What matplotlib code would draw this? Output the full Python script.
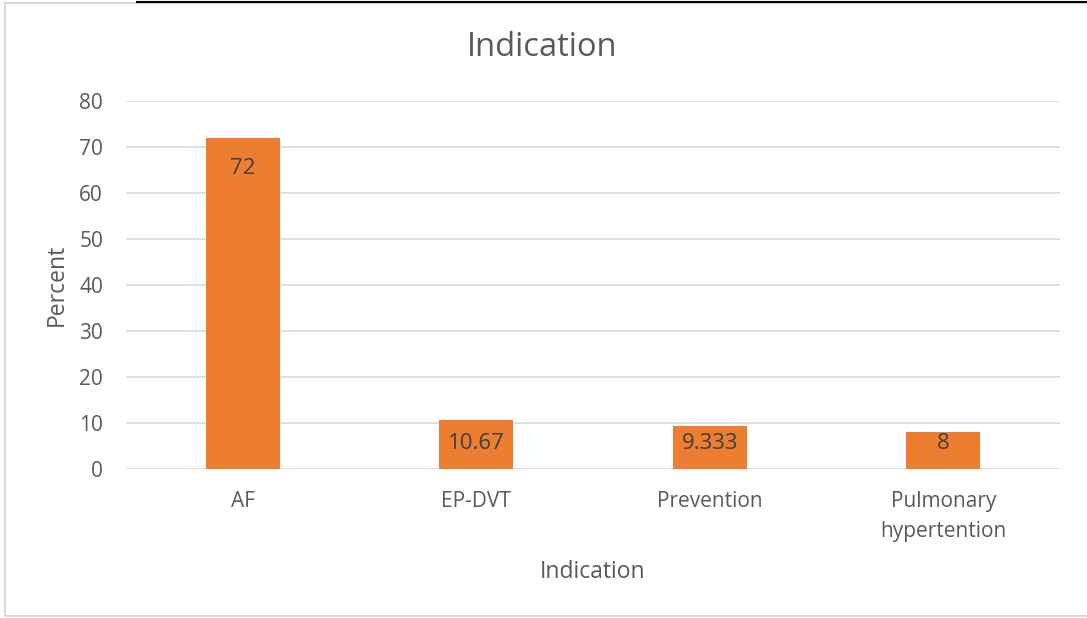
import matplotlib
matplotlib.use("Agg")
import matplotlib.pyplot as plt
from matplotlib.patches import Rectangle
from matplotlib.lines import Line2D

categories = ["AF", "EP-DVT", "Prevention", "Pulmonary\nhypertention"]
values = [72, 10.67, 9.333, 8]
value_labels = ["72", "10.67", "9.333", "8"]
yticks = [0, 10, 20, 30, 40, 50, 60, 70, 80]

plt.rcParams['font.family'] = ['Open Sans', 'DejaVu Sans']
W, H = 1087, 618
fig = plt.figure(figsize=(W / 100, H / 100), dpi=100)
ax = fig.add_axes([126 / W, 1 - 469 / H, (1060 - 126) / W, (469 - 101) / H])

bar_color = "#ED7D31"
text_color = "#595959"
grid_color = "#D9D9D9"

x = list(range(len(categories)))
ax.bar(x, values, width=0.317, color=bar_color, zorder=3)
ax.set_xlim(-0.5, len(categories) - 0.5)
ax.set_ylim(0, 80)
ax.set_yticks(yticks)
ax.set_xticks(x)
ax.set_xticklabels(categories, fontsize=15, color=text_color, linespacing=1.62)
ax.tick_params(axis='y', labelsize=15, labelcolor=text_color, length=0, pad=16.5)
ax.tick_params(axis='x', length=0, pad=15.5)
ax.grid(axis='y', color=grid_color, linewidth=1.2, zorder=0)
for s in ax.spines.values():
    s.set_visible(False)

# value labels sit inside the bar end, kept within short bars
for xi, v, lab in zip(x, values, value_labels):
    ax.text(xi, max(v - 6.6, 5.6), lab, ha='center', va='center',
            fontsize=16, color="#404040", zorder=4)

ax.set_ylabel("Percent", fontsize=16.5, color=text_color, va='center')
ax.yaxis.set_label_coords(-0.0739, 0.5)
ax.set_xlabel("Indication", fontsize=16.5, color=text_color, va='center')
ax.xaxis.set_label_coords(0.5, -0.28)
fig.text(542 / W, 1 - 47 / H, "Indication", fontsize=23.5, color=text_color,
         ha='center', va='center')

# outer chart frame
fig.add_artist(Rectangle((5 / W, 1 - 616 / H), 1.2, (616 - 3) / H,
                         transform=fig.transFigure, fill=False,
                         edgecolor=grid_color, linewidth=1.5))
fig.add_artist(Line2D([137 / W, 1], [1 - 1.5 / H, 1 - 1.5 / H],
                      transform=fig.transFigure, color="black", linewidth=1.5))

fig.savefig("out.png", dpi=100, facecolor="white")
